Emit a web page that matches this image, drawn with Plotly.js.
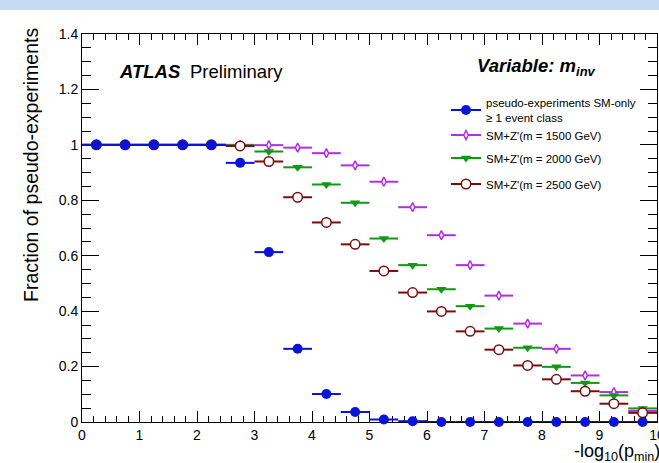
<!DOCTYPE html>
<html>
<head>
<meta charset="utf-8">
<script src="https://cdn.plot.ly/plotly-3.0.1.min.js"></script>
<style>html,body{margin:0;padding:0;background:#fff;}#chart{width:659px;height:463px;}</style>
</head>
<body>
<div id="chart"></div>
<script>
// Bin centres of -log10(p_min), bin width 0.5
const binCenters = [0.25,0.75,1.25,1.75,2.25,2.75,3.25,3.75,4.25,4.75,5.25,5.75,6.25,6.75,7.25,7.75,8.25,8.75,9.25,9.75];
const binHalfWidth = 0.25;

// Fraction of pseudo-experiments
const smOnly = [1,1,1,1,1,0.935,0.613,0.264,0.101,0.036,0.009,0.003,0,0,0,0,0,0,0,0];
const zp1500 = [1,1,1,1,1,1.0,0.999,0.990,0.970,0.926,0.867,0.775,0.674,0.566,0.456,0.355,0.264,0.168,0.108,0.040];
const zp2000 = [1,1,1,1,1,0.998,0.976,0.919,0.857,0.791,0.662,0.566,0.479,0.418,0.337,0.268,0.199,0.141,0.096,0.049];
const zp2500 = [1,1,1,1,1,0.996,0.940,0.811,0.720,0.641,0.545,0.467,0.399,0.327,0.261,0.204,0.154,0.111,0.066,0.033];

const seriesNames = [
  "pseudo-experiments SM-only<br>≥ 1 event class",
  "SM+Z'(m = 1500 GeV)",
  "SM+Z'(m = 2000 GeV)",
  "SM+Z'(m = 2500 GeV)"
];

const BLUE = '#0a14d8', PURPLE = '#b02ee6', GREEN = '#119911', BROWN = '#7a0c0c';
const FONT = 'Liberation Sans, Arial, Helvetica, sans-serif';

function series(y, color, marker, name) {
  return {
    x: binCenters, y: y, type: 'scatter', mode: 'markers', name: name,
    showlegend: false, cliponaxis: false,
    marker: marker,
    error_x: {type: 'constant', value: binHalfWidth, width: 0, thickness: 2, color: color}
  };
}
function legendEntry(color, marker, name, legendId) {
  return {
    x: [null], y: [null], type: 'scatter', mode: 'lines+markers', name: name,
    legend: legendId, showlegend: true,
    line: {color: color, width: 2}, marker: marker
  };
}

const mPurple = {symbol: 'diamond-tall', size: 6.5, color: '#ffffff', line: {color: PURPLE, width: 1.5}};
const mGreen  = {symbol: 'triangle-down', size: 9, color: GREEN, line: {width: 0}};
const mBrown  = {symbol: 'circle', size: 9.5, color: '#ffffff', line: {color: BROWN, width: 1.5}};
const mBlue   = {symbol: 'circle', size: 10, color: BLUE, line: {width: 0}};

const data = [
  series(zp1500, PURPLE, mPurple, seriesNames[1]),
  series(zp2000, GREEN, mGreen, seriesNames[2]),
  series(zp2500, BROWN, mBrown, seriesNames[3]),
  series(smOnly, BLUE, mBlue, seriesNames[0]),
  legendEntry(BLUE, mBlue, seriesNames[0], 'legend'),
  legendEntry(PURPLE, mPurple, seriesNames[1], 'legend2'),
  legendEntry(GREEN, mGreen, seriesNames[2], 'legend3'),
  legendEntry(BROWN, mBrown, seriesNames[3], 'legend4')
];

const W = 575, H = 388, L = 82, T = 34;
const px = v => (v - L) / W;
const py = v => (T + H - v) / H;

const axisCommon = {
  showgrid: false, zeroline: false, showline: true, linecolor: '#000', linewidth: 1,
  mirror: 'allticks', ticks: 'inside', tickcolor: '#000', tickwidth: 1,
  tickfont: {family: FONT, size: 14, color: '#000'}, layer: 'below traces',
  ticklabeloverflow: 'allow'
};

function legendAt(yPix) {
  return {
    x: px(446), y: py(yPix), xanchor: 'left', yanchor: 'middle',
    bgcolor: 'rgba(0,0,0,0)', borderwidth: 0,
    font: {family: FONT, size: 11.5, color: '#000'},
    itemwidth: 30, valign: 'middle'
  };
}

const layout = {
  width: 659, height: 463,
  margin: {l: L, r: 659 - L - W, t: T, b: 463 - T - H},
  paper_bgcolor: '#fff', plot_bgcolor: '#fff',
  font: {family: FONT, color: '#000'},
  xaxis: Object.assign({}, axisCommon, {
    range: [0, 10], dtick: 1, tick0: 0, ticklen: 11,
    minor: {ticks: 'inside', dtick: 0.2, ticklen: 6, tickcolor: '#000', tickwidth: 1}
  }),
  yaxis: Object.assign({}, axisCommon, {
    range: [0, 1.4], dtick: 0.2, tick0: 0, ticklen: 17,
    minor: {ticks: 'inside', dtick: 0.05, ticklen: 9, tickcolor: '#000', tickwidth: 1}
  }),
  showlegend: true,
  legend: legendAt(110),
  legend2: legendAt(135),
  legend3: legendAt(158),
  legend4: legendAt(184),
  shapes: [{
    type: 'rect', xref: 'paper', yref: 'paper',
    x0: px(0), x1: px(659), y0: py(10), y1: py(0),
    fillcolor: '#c6daf1', line: {width: 0}, layer: 'above'
  }],
  annotations: [
    {text: 'Fraction of pseudo-experiments', xref: 'paper', yref: 'paper',
     x: px(31), y: py(26), xanchor: 'center', yanchor: 'top', textangle: -90,
     showarrow: false, font: {family: FONT, size: 19.5, color: '#000'}},
    {text: '-log<sub>10</sub>(p<sub>min</sub>)', xref: 'paper', yref: 'paper',
     x: px(572), y: py(452), xanchor: 'left', yanchor: 'middle',
     showarrow: false, font: {family: FONT, size: 18, color: '#000'}},
    {text: '<b><i>ATLAS</i></b>', xref: 'paper', yref: 'paper',
     x: px(117), y: py(71), xanchor: 'left', yanchor: 'middle',
     showarrow: false, font: {family: FONT, size: 18.5, color: '#000'}},
    {text: 'Preliminary', xref: 'paper', yref: 'paper',
     x: px(188), y: py(71), xanchor: 'left', yanchor: 'middle',
     showarrow: false, font: {family: FONT, size: 18.5, color: '#000'}},
    {text: '<b><i>Variable: m<sub>inv</sub></i></b>', xref: 'paper', yref: 'paper',
     x: px(475), y: py(67), xanchor: 'left', yanchor: 'middle',
     showarrow: false, font: {family: FONT, size: 18.5, color: '#000'}}
  ]
};

Plotly.newPlot('chart', data, layout, {displayModeBar: false, staticPlot: true});
</script>
</body>
</html>
